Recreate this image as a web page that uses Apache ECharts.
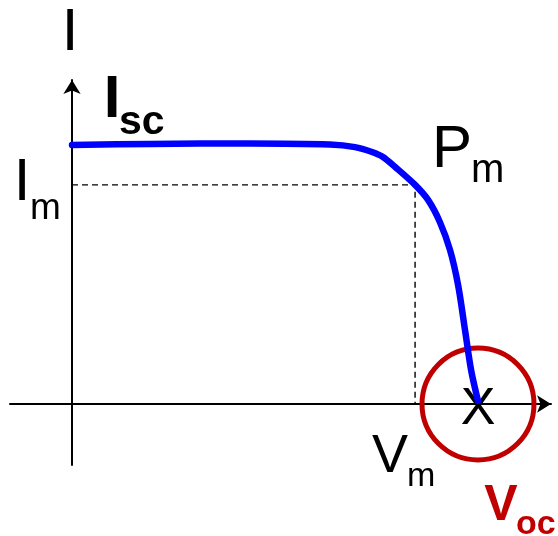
<!DOCTYPE html>
<html>
<head>
<meta charset="utf-8">
<script src="https://cdn.jsdelivr.net/npm/echarts@6/dist/echarts.min.js"></script>
<style>
  html, body { margin: 0; padding: 0; background: #fff; }
  #chart { width: 558px; height: 536px; }
</style>
</head>
<body>
<div id="chart"></div>
<script>
// I-V curve, voltage normalised to Voc = 1, current normalised to Isc = 1
const curveV = [0, 0.192, 0.438, 0.635, 0.697, 0.739, 0.766, 0.796, 0.845, 0.877, 0.906, 0.931, 0.951, 0.968, 0.983, 1.0]
const curveI = [1.0, 1.004, 1.006, 1.002, 0.992, 0.973, 0.954, 0.915, 0.846, 0.788, 0.703, 0.595, 0.459, 0.286, 0.131, 0.012]
const pmPoint = [0.845, 0.846]
const vocPoint = [1.0, 0]

const FONT = '"Liberation Sans", Arial, sans-serif'
const RED = '#c00000'

const chart = echarts.init(document.getElementById('chart'))

// small helper for the free text labels
const txt = (text, x, y, size, opt = {}) => ({
  type: 'text',
  x, y,
  z: 10,
  style: {
    text,
    fontFamily: FONT,
    fontSize: size,
    fontWeight: opt.bold ? 'bold' : 'normal',
    fill: opt.color || '#000',
    align: opt.align || 'left',
    verticalAlign: 'middle'
  }
})

const axisCommon = {
  type: 'value',
  axisLine: {
    show: true,
    onZero: true,
    symbol: ['none', 'arrow'],
    symbolSize: [13, 14],
    lineStyle: { color: '#000', width: 2 }
  },
  axisTick: { show: false },
  axisLabel: { show: false },
  splitLine: { show: false }
}

const option = {
  animation: false,
  backgroundColor: '#fff',
  grid: { left: 10, right: 7, top: 80, bottom: 71 },
  xAxis: Object.assign({}, axisCommon, { min: -0.1527, max: 1.1798 }),
  yAxis: Object.assign({}, axisCommon, { min: -0.2355, max: 1.251 }),
  series: [
    {
      // Pm dashed guides
      type: 'line',
      data: [[0, pmPoint[1]], pmPoint, [pmPoint[0], 0]],
      symbol: 'none',
      lineStyle: { color: '#000', width: 1.4, type: [6, 4] },
      z: 2
    },
    {
      // Voc circle
      type: 'scatter',
      data: [vocPoint],
      symbol: 'circle',
      symbolSize: 112,
      itemStyle: { color: 'rgba(0,0,0,0)', borderColor: RED, borderWidth: 5, opacity: 1 },
      label: {
        show: true,
        position: 'inside',
        formatter: 'X',
        fontFamily: FONT,
        fontSize: 52,
        color: '#000',
        offset: [0, 6]
      },
      emphasis: { disabled: true },
      z: 3
    },
    {
      type: 'line',
      data: curveV.map((v, i) => [v, curveI[i]]),
      symbol: 'none',
      smooth: 0.3,
      lineStyle: { color: '#0000ff', width: 6.5, cap: 'round', join: 'round' },
      z: 4
    }
  ],
  graphic: [
    txt('I', 70, 33, 60, { align: 'center' }),
    txt('I', 112, 100, 60, { bold: true, align: 'center' }),
    txt('sc', 119, 123, 41, { bold: true }),
    txt('I', 22, 183, 60, { align: 'center' }),
    txt('m', 30, 209, 37),
    txt('P', 432, 150, 60),
    txt('m', 471, 171, 40),
    txt('V', 390, 457, 54, { align: 'center' }),
    txt('m', 407, 477, 34),
    txt('V', 501, 506, 50, { bold: true, align: 'center', color: RED }),
    txt('oc', 516, 525, 34, { bold: true, color: RED })
  ]
}

chart.setOption(option)
</script>
</body>
</html>
